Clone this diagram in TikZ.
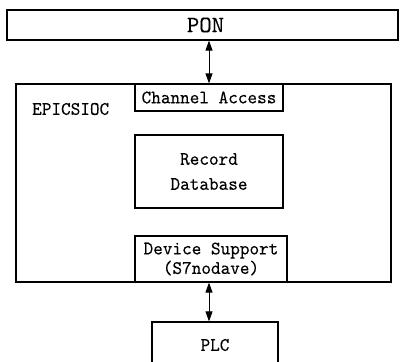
\documentclass[tikz,border=0pt]{standalone}
\usepackage{fontspec}
\usetikzlibrary{arrows.meta}
\newfontfamily\boxfont[FakeStretch=0.96,FakeBold=0.15]{lmmono10-regular.otf}
\newfontfamily\bigfont[FakeBold=0.15]{lmmono10-regular.otf}
\begin{document}
\begin{tikzpicture}[x=1pt,y=-1pt,
  box/.style={draw=black,line width=1.2pt,rectangle,inner sep=0pt,fill=white,
    font=\boxfont\fontsize{19.1}{20}\selectfont,align=center},
  arr/.style={line width=0.9pt,{Triangle[length=10pt,width=7pt]}-{Triangle[length=10pt,width=7pt]}}]
\useasboundingbox (0,0) rectangle (403,361);
\clip (0,0) rectangle (403,361);
\node[box,minimum width=391pt,minimum height=30pt,font=\bigfont\fontsize{23.6}{24}\selectfont] (pon) at (202.5,25) {\hspace*{6pt}PON};
\node[box,minimum width=375pt,minimum height=198pt,fill=none] (ioc) at (203.5,183) {};
\node[box,minimum width=148pt,minimum height=27pt] (ca) at (209,97.5) {Channel Access};
\node[font=\boxfont\fontsize{19.1}{20}\selectfont,anchor=west,inner sep=0pt] (lbl) at (32,109) {EPICSIOC};
\node[box,minimum width=148pt,minimum height=73pt,font=\boxfont\fontsize{19.1}{25}\selectfont] (rec) at (209,171.5) {Record\\Database};
\node[box,minimum width=152pt,minimum height=46pt,font=\boxfont\fontsize{19.1}{19.5}\selectfont] (ds) at (211,259) {Device Support\\(S7nodave)};
\node[box,minimum width=126pt,minimum height=46pt] (plc) at (215,345) {PLC};
\draw[arr] (ca.north |- pon.south) -- (ca.north);
\draw[arr] (rec.south |- ds.south) -- (rec.south |- plc.north);
\end{tikzpicture}
\end{document}
